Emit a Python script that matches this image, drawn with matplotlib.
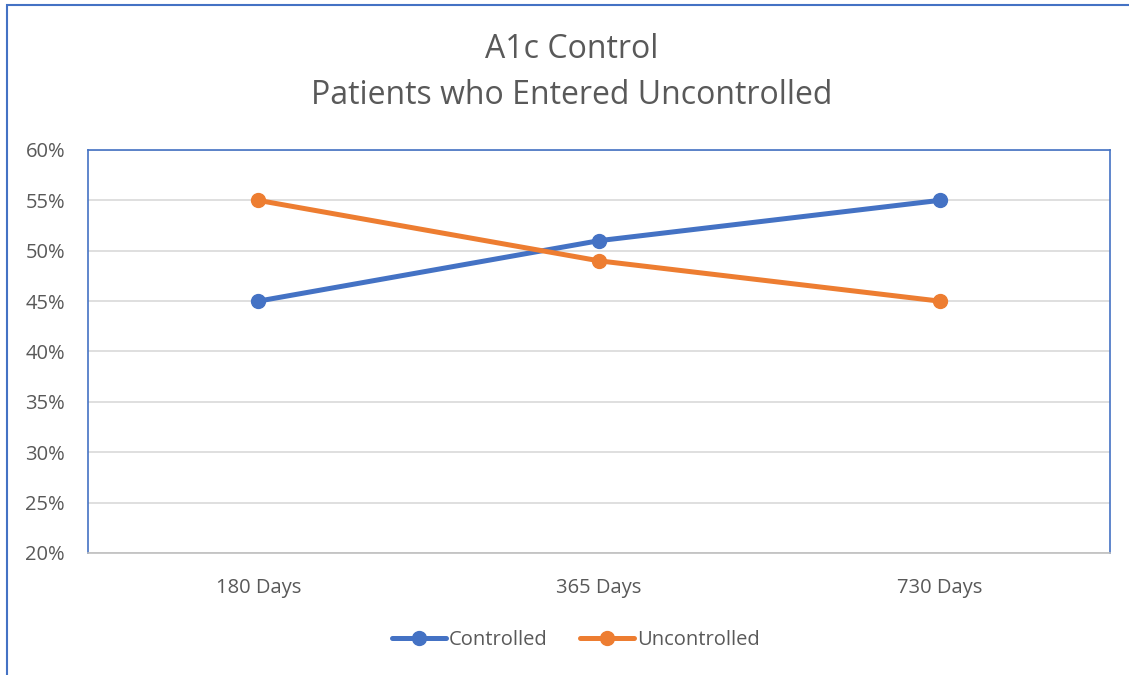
import matplotlib
matplotlib.use("Agg")
import matplotlib.pyplot as plt
from matplotlib.patches import Rectangle
from matplotlib.ticker import PercentFormatter, MultipleLocator

categories = ["180 Days", "365 Days", "730 Days"]
controlled = [45, 51, 55]
uncontrolled = [55, 49, 45]
series_names = ["Controlled", "Uncontrolled"]

BLUE = "#4472C4"
ORANGE = "#ED7D31"
TXT = "#595959"
GRID = "#D9D9D9"

plt.rcParams['font.family'] = ['Open Sans', 'DejaVu Sans']

W, H = 1129, 675
fig = plt.figure(figsize=(W / 100, H / 100), dpi=100)
ax = fig.add_axes([88 / W, 1 - 553 / H, (1110 - 88) / W, (553 - 150) / H])

x = list(range(len(categories)))
ax.plot(x, controlled, color=BLUE, lw=3.6, marker='o', ms=10, label=series_names[0],
        solid_capstyle='round', zorder=3)
ax.plot(x, uncontrolled, color=ORANGE, lw=3.6, marker='o', ms=10, label=series_names[1],
        solid_capstyle='round', zorder=3)

ax.set_xlim(-0.5, len(categories) - 0.5)
ax.set_ylim(20, 60)
ax.yaxis.set_major_locator(MultipleLocator(5))
ax.yaxis.set_major_formatter(PercentFormatter(decimals=0))
ax.set_xticks(x)
ax.set_xticklabels(categories)
ax.grid(axis='y', color=GRID, lw=1.2)
ax.set_axisbelow(True)
ax.tick_params(axis='both', length=0, labelsize=14.5, colors=TXT)
ax.tick_params(axis='y', pad=16.5)
ax.tick_params(axis='x', pad=18)
for s in ['left', 'top', 'right']:
    ax.spines[s].set_color(BLUE)
    ax.spines[s].set_linewidth(1.2)
ax.spines['bottom'].set_color("#BFBFBF")
ax.spines['bottom'].set_linewidth(1.2)

fig.text(572 / W, 1 - 50 / H, "A1c Control", ha='center', va='center', fontsize=23, color=TXT)
fig.text(572 / W, 1 - 96 / H, "Patients who Entered Uncontrolled", ha='center', va='center',
         fontsize=23, color=TXT)

fig.legend(loc='center', bbox_to_anchor=(576 / W, 1 - 640 / H), ncol=2, frameon=False,
           fontsize=14.5, labelcolor=TXT, handlelength=2.7, handletextpad=0.15,
           columnspacing=1.6)

fig.add_artist(Rectangle((7 / W, -0.1), 1.2, 1 - 5 / H + 0.1, transform=fig.transFigure,
                         fill=False, edgecolor=BLUE, lw=1.5))

fig.savefig("out.png", dpi=100)
